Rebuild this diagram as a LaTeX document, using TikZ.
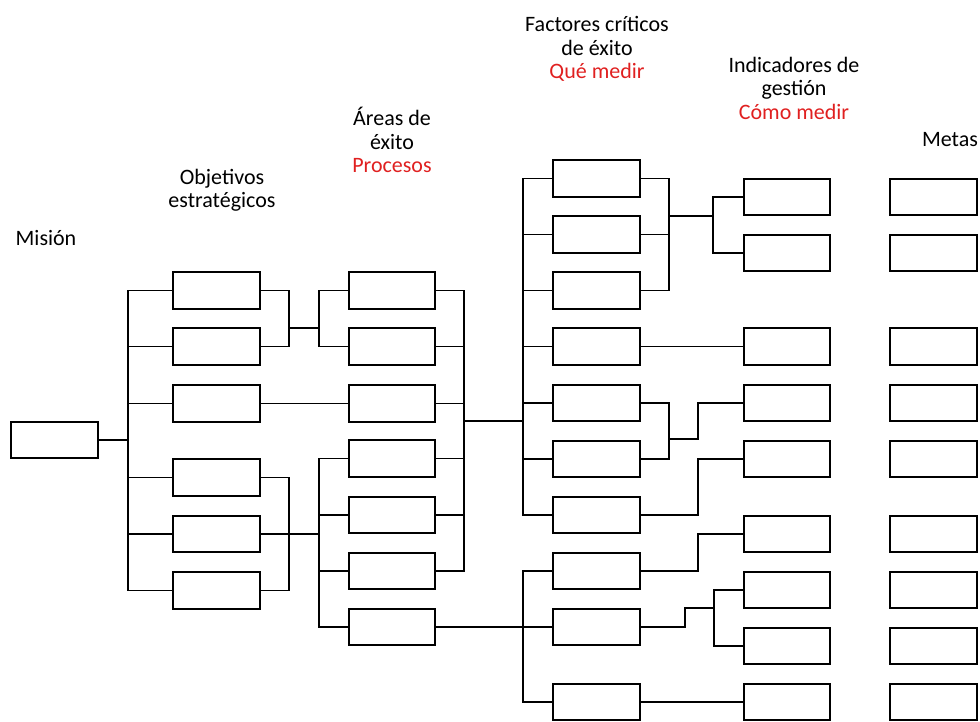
\documentclass[tikz,border=0pt]{standalone}
\usepackage{fontspec}
\setmainfont{Carlito}
\definecolor{rojo}{RGB}{224,32,32}
\tikzset{
  caja/.style={draw, line width=1.5pt, inner sep=0pt, minimum width=65pt, minimum height=27.5pt},
  titulo/.style={align=center, inner sep=0pt, font=\fontsize{16.5}{17.6}\selectfont},
  enlace/.style={line width=1.4pt}
}
\begin{document}
\begin{tikzpicture}[x=0.75pt,y=0.75pt,yscale=-1,xscale=1]
\useasboundingbox (0,0) rectangle (980,721);
% titulos
\node[titulo] (tm) at (46,238) {Misión};
\node[titulo] (to) at (222,190) {Objetivos\\estratégicos};
\node[titulo] (ta) at (392,140) {Áreas de\\éxito\\\textcolor{rojo}{Procesos}};
\node[titulo] (tf) at (597,49) {Factores críticos\\de éxito\\\textcolor{rojo}{Qué medir}};
\node[titulo] (ti) at (794,88) {Indicadores de\\gestión\\\textcolor{rojo}{Cómo medir}};
\node[titulo] (tg) at (950,140) {Metas};
% cajas
\node[caja] (m) at (54.5,440) {};
\foreach \n/\y in {1/290.5,2/346.5,3/403.5,4/477.5,5/534,6/590.5}
  \node[caja] (o\n) at (216.5,\y) {};
\foreach \n/\y in {1/290.5,2/346.5,3/403.5,4/458.5,5/515,6/571,7/627}
  \node[caja] (a\n) at (392,\y) {};
\foreach \n/\y in {1/178.5,2/234.5,3/290.5,4/346.5,5/403,6/459,7/515,8/571,9/627,10/702}
  \node[caja] (f\n) at (596.5,\y) {};
\foreach \n/\y in {1/197,2/253,3/346.5,4/403,5/459,6/534,7/590,8/646,9/702}{
  \node[caja] (i\n) at (787,\y) {};
  \node[caja] (g\n) at (933.5,\y) {};
}
% puntos de union
\coordinate (s1) at (128,440);
\coordinate (j1) at (289,328);
\coordinate (k1) at (319,328);
\coordinate (j2) at (289,534);
\coordinate (k2) at (319,534);
\coordinate (j3) at (464,421);
\coordinate (k3) at (523,421);
\coordinate (k4) at (523,627);
\coordinate (j5) at (669,216);
\coordinate (k5) at (713,216);
\coordinate (j6) at (669,439);
\coordinate (k6) at (698,439);
\coordinate (k7) at (698,459);
\coordinate (k8) at (698,534);
\coordinate (j9) at (685,608);
\coordinate (k9) at (714,608);
% mision -> objetivos
\draw[enlace] (m.east) -- (s1);
\draw[enlace] (o1.west) -| (s1) |- (o6.west);
\foreach \n in {2,...,5}
  \draw[enlace] (o\n.west) -- (s1 |- o\n.west);
% objetivos -> areas
\draw[enlace] (o1.east) -| (j1) |- (o2.east);
\draw[enlace] (j1) -- (k1);
\draw[enlace] (a1.west) -| (k1) |- (a2.west);
\draw[enlace] (o3.east) -- (a3.west);
\draw[enlace] (o4.east) -| (j2) |- (o6.east);
\draw[enlace] (o5.east) -- (k2);
\draw[enlace] (a4.west) -| (k2) |- (a7.west);
\foreach \n in {5,6}
  \draw[enlace] (a\n.west) -- (k2 |- a\n.west);
% areas -> factores
\draw[enlace] (a1.east) -| (j3) |- (a6.east);
\foreach \n in {2,...,5}
  \draw[enlace] (a\n.east) -- (j3 |- a\n.east);
\draw[enlace] (j3) -- (k3);
\draw[enlace] (f1.west) -| (k3) |- (f7.west);
\foreach \n in {2,...,6}
  \draw[enlace] (f\n.west) -- (k3 |- f\n.west);
\draw[enlace] (a7.east) -- (f9.west);
\draw[enlace] (f8.west) -| (k4) |- (f10.west);
% factores -> indicadores
\draw[enlace] (f1.east) -| (j5) |- (f3.east);
\draw[enlace] (f2.east) -- (j5 |- f2.east);
\draw[enlace] (j5) -- (k5);
\draw[enlace] (i1.west) -| (k5) |- (i2.west);
\draw[enlace] (f4.east) -- (i3.west);
\draw[enlace] (f5.east) -| (j6) |- (f6.east);
\draw[enlace] (j6) -- (k6) |- (i4.west);
\draw[enlace] (f7.east) -| (k7) -- (i5.west);
\draw[enlace] (f8.east) -| (k8) -- (i6.west);
\draw[enlace] (f9.east) -| (j9) -- (k9);
\draw[enlace] (i7.west) -| (k9) |- (i8.west);
\draw[enlace] (f10.east) -- (i9.west);
\end{tikzpicture}
\end{document}
